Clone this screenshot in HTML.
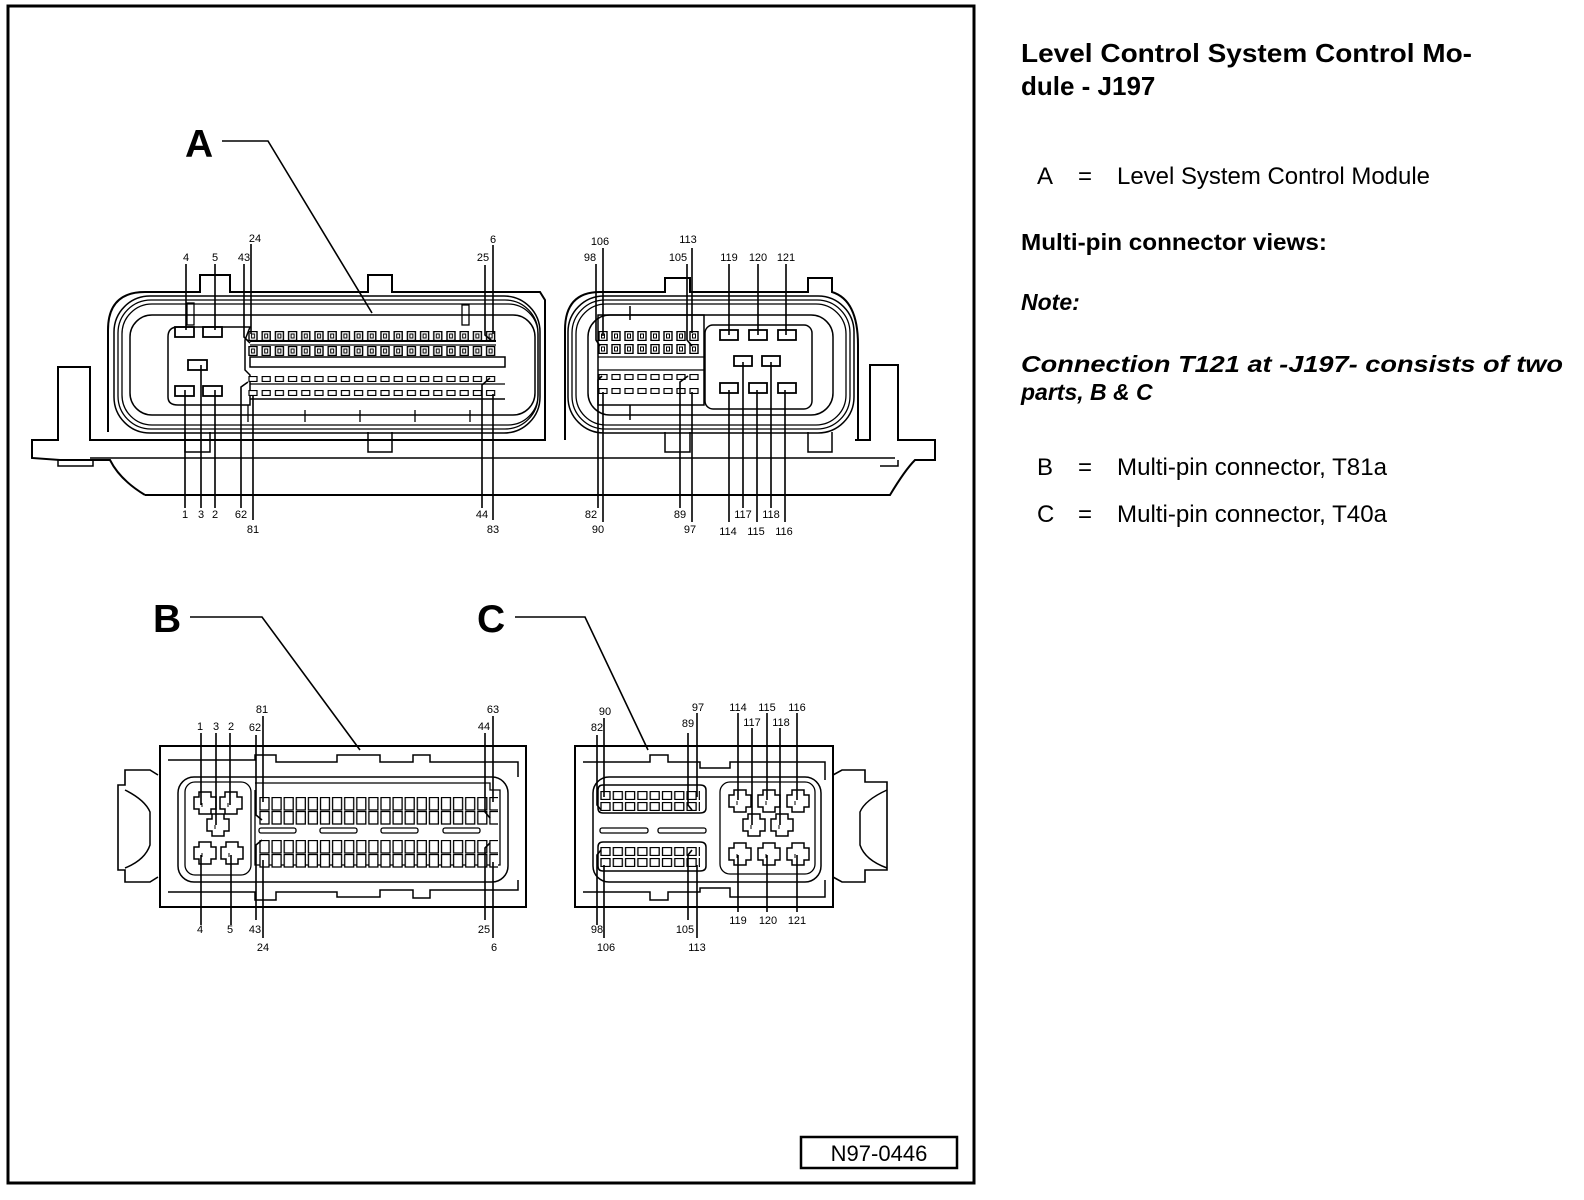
<!DOCTYPE html>
<html><head><meta charset="utf-8"><style>
html,body{margin:0;padding:0;background:#fff;}
svg{display:block;}
.t{font-family:"Liberation Sans",Arial,sans-serif;}
</style></head><body>
<svg width="1584" height="1200" viewBox="0 0 1584 1200" xmlns="http://www.w3.org/2000/svg">
<defs>
<pattern id="pA" x="248" y="0" width="13.2" height="20" patternUnits="userSpaceOnUse"><rect x="1" y="0.5" width="8" height="9" fill="#fff" stroke="#000" stroke-width="1.4"/><rect x="3.5" y="3" width="3" height="4" fill="none" stroke="#000" stroke-width="1"/></pattern>
<pattern id="pAs" x="248" y="0" width="13.2" height="20" patternUnits="userSpaceOnUse"><rect x="1" y="0.5" width="8" height="5" fill="#fff" stroke="#000" stroke-width="1.2"/></pattern>
<pattern id="pR" x="598" y="0" width="13" height="20" patternUnits="userSpaceOnUse"><rect x="1" y="0.5" width="8" height="9" fill="#fff" stroke="#000" stroke-width="1.4"/><rect x="3.5" y="3" width="3" height="4" fill="none" stroke="#000" stroke-width="1"/></pattern>
<pattern id="pRs" x="598" y="0" width="13" height="20" patternUnits="userSpaceOnUse"><rect x="1" y="0.5" width="8" height="5" fill="#fff" stroke="#000" stroke-width="1.2"/></pattern>
<pattern id="pB" x="259" y="0" width="12.1" height="30" patternUnits="userSpaceOnUse"><rect x="1" y="0.5" width="9" height="12.5" fill="#fff" stroke="#000" stroke-width="1.3"/></pattern>
<pattern id="pC" x="600" y="0" width="12.3" height="30" patternUnits="userSpaceOnUse"><rect x="1" y="0.5" width="9" height="8" fill="#fff" stroke="#000" stroke-width="1.3"/></pattern>
<g id="cross"><path d="M-6,-11 h12 v5 h5 v12 h-5 v5 h-12 v-5 h-5 v-12 h5 z" fill="#fff" stroke="#000" stroke-width="1.5"/><path d="M-3,0 v4" stroke="#000"/></g>
</defs>
<g fill="none" stroke="#000" stroke-width="2">
<rect x="8" y="6" width="966" height="1177" stroke-width="3"/>
<rect x="801" y="1137" width="156" height="31" stroke-width="2.5"/>

<path d="M145,495 H890 Q905,470 915,460 H935 V440 H898 V365 H870 V440 H855"/>
<path d="M110,440 H90 V367 H58 V440 H32 V458 L60,460 H110 Q120,480 145,495"/>
<line x1="90" y1="458" x2="895" y2="458" stroke-width="1.5"/>
<path d="M58,460 V466 H93 V460 M898,460 V466 H880" stroke-width="1.5"/>
<path d="M108,432 V330 Q108,292 145,292 H200 V275 H230 V292 H368 V275 H392 V292 H540 L545,300 V440 H108" />
<rect x="114" y="296" width="426" height="137" rx="36" stroke-width="1.5"/>
<rect x="118" y="300" width="420" height="129" rx="33" stroke-width="1.3"/>
<rect x="122" y="304" width="416" height="121" rx="30" stroke-width="1.3"/>
<rect x="130" y="315" width="405" height="100" rx="22" stroke-width="1.5"/>
<path d="M185,432 V452 H210 V432 M368,432 V452 H392 V432" stroke-width="1.5"/>
<path d="M250,327 H178 Q168,327 168,337 V397 Q168,405 178,405 H250 V375 L245,370 V340 Z" stroke-width="1.5"/>
<rect x="175" y="327" width="19" height="10" stroke-width="1.8"/>
<rect x="203" y="327" width="19" height="10" stroke-width="1.8"/>
<rect x="188" y="360" width="19" height="10" stroke-width="1.8"/>
<rect x="175" y="386" width="19" height="10" stroke-width="1.8"/>
<rect x="203" y="386" width="19" height="10" stroke-width="1.8"/>
<line x1="250" y1="341" x2="496" y2="341"/>
<line x1="250" y1="345" x2="496" y2="345" stroke-width="1.3"/>
<rect x="250" y="357" width="255" height="10" stroke-width="1.5"/>
<line x1="250" y1="384" x2="505" y2="384" stroke-width="1.3"/>
<line x1="250" y1="399" x2="505" y2="399" stroke-width="1.5"/>
<rect x="187" y="303" width="7" height="22" stroke-width="1.3"/>
<rect x="462" y="305" width="7" height="20" stroke-width="1.3"/>
<path d="M248,405 V422 M305,410 V422 M360,410 V422 M415,410 V422 M470,410 V422" stroke-width="1.3"/>
<path d="M565,440 V330 Q565,292 600,292 H665 V278 H690 V292 H808 V278 H832 V292 Q858,300 858,345 V440"/>
<rect x="568" y="296" width="286" height="137" rx="36" stroke-width="1.5"/>
<rect x="572" y="300" width="278" height="129" rx="33" stroke-width="1.3"/>
<rect x="576" y="304" width="270" height="121" rx="30" stroke-width="1.3"/>
<rect x="588" y="315" width="245" height="100" rx="22" stroke-width="1.5"/>
<rect x="598" y="315" width="106" height="90" stroke-width="1.5"/>
<rect x="705" y="325" width="107" height="84" rx="8" stroke-width="1.5"/>
<rect x="720" y="330" width="18" height="10" stroke-width="1.8"/>
<rect x="749" y="330" width="18" height="10" stroke-width="1.8"/>
<rect x="778" y="330" width="18" height="10" stroke-width="1.8"/>
<rect x="734" y="356" width="18" height="10" stroke-width="1.8"/>
<rect x="762" y="356" width="18" height="10" stroke-width="1.8"/>
<rect x="720" y="383" width="18" height="10" stroke-width="1.8"/>
<rect x="749" y="383" width="18" height="10" stroke-width="1.8"/>
<rect x="778" y="383" width="18" height="10" stroke-width="1.8"/>
<path d="M630,306 V320 M630,405 V420 M665,432 V452 H690 V432 M808,432 V452 H832 V432" stroke-width="1.5"/>
<line x1="598" y1="357" x2="704" y2="357" stroke-width="1.3"/>
<line x1="598" y1="370" x2="704" y2="370" stroke-width="1.3"/>
</g>
<g transform="translate(0,331)"><rect x="248" y="0" width="250" height="10" fill="url(#pA)"/></g>
<g transform="translate(0,346)"><rect x="248" y="0" width="250" height="10" fill="url(#pA)"/></g>
<g transform="translate(0,376)"><rect x="248" y="0" width="250" height="6" fill="url(#pAs)"/></g>
<g transform="translate(0,390)"><rect x="248" y="0" width="250" height="6" fill="url(#pAs)"/></g>
<g transform="translate(0,331)"><rect x="598" y="0" width="104" height="10" fill="url(#pR)"/></g>
<g transform="translate(0,344)"><rect x="598" y="0" width="104" height="10" fill="url(#pR)"/></g>
<g transform="translate(0,374)"><rect x="598" y="0" width="104" height="6" fill="url(#pRs)"/></g>
<g transform="translate(0,388)"><rect x="598" y="0" width="104" height="6" fill="url(#pRs)"/></g>
<g stroke="#000" stroke-width="1.6" fill="none">
<path d="M222,141 H268 L372,313"/>
<path d="M186,264 V330 M215,264 V330 M185,390 V508 M201,365 V508 M215,390 V508"/>
<path d="M251,244 V334 M244,264 V337 L250,343 M253,395 V520 M241,508 V387 L248,382"/>
<path d="M485,265 V335 L492,341 M493,245 V334 M493,394 V520 M482,508 V385 L490,378"/>
<path d="M596,264 V340 L600,346 M603,248 V336 M598,508 V380 L602,376 M603,392 V522"/>
<path d="M687,264 V340 L692,346 M692,248 V333 M680,508 V382 L688,376 M692,392 V522"/>
<path d="M729,264 V335 M758,264 V335 M786,264 V335 M729,390 V522 M757,390 V522 M785,390 V522 M743,362 V508 M771,362 V508"/>
</g>

<g fill="none" stroke="#000" stroke-width="2">
<path d="M190,617 H262 L360,750" stroke-width="1.6"/>
<rect x="160" y="746" width="366" height="161"/>
<path d="M158,775 L150,770 H125 V785 H118 V870 H125 V882 H150 L158,877" stroke-width="1.6"/>
<path d="M125,790 Q145,800 150,812 V845 Q145,860 125,868" stroke-width="1.5"/>
<path d="M168,760 H255 V755 H276 V762 H337 V755 H380 V762 H413 V755 H430 V762 H518 V777" stroke-width="1.5"/>
<path d="M168,892 H255 V900 H276 V892 H337 V897 H380 V890 H413 V898 H430 V890 H518 V880" stroke-width="1.5"/>
<rect x="178" y="777" width="330" height="105" rx="16" stroke-width="1.5"/>
<rect x="185" y="782" width="66" height="93" rx="10" stroke-width="1.3"/>
<path d="M255,790 V865 H500 V790 H490 V783 H255" stroke-width="1.3"/>
<rect x="259" y="828" width="37" height="5" rx="2" stroke-width="1.3"/>
<rect x="320" y="828" width="37" height="5" rx="2" stroke-width="1.3"/>
<rect x="381" y="828" width="37" height="5" rx="2" stroke-width="1.3"/>
<rect x="443" y="828" width="37" height="5" rx="2" stroke-width="1.3"/>
</g>
<use href="#cross" x="205" y="803"/><use href="#cross" x="231" y="803"/><use href="#cross" x="218" y="825"/>
<use href="#cross" x="205" y="853"/><use href="#cross" x="232" y="853"/>
<g transform="translate(0,797)"><rect x="258" y="0" width="240" height="14" fill="url(#pB)"/></g>
<g transform="translate(0,811)"><rect x="258" y="0" width="240" height="14" fill="url(#pB)"/></g>
<g transform="translate(0,840)"><rect x="258" y="0" width="240" height="14" fill="url(#pB)"/></g>
<g transform="translate(0,854)"><rect x="258" y="0" width="240" height="14" fill="url(#pB)"/></g>
<g stroke="#000" stroke-width="1.6" fill="none">
<path d="M201,733 V805 M216,733 V825 M230,733 V805 M201,855 V925 M231,855 V925"/>
<path d="M256,735 V815 L262,820 M263,716 V802 M256,920 V845 L262,840 M263,860 V938"/>
<path d="M485,733 V812 L490,818 M493,716 V802 M485,920 V848 L490,843 M493,862 V938"/>
</g>

<g fill="none" stroke="#000" stroke-width="2">
<path d="M515,617 H585 L648,750" stroke-width="1.6"/>
<rect x="575" y="746" width="258" height="161"/>
<path d="M833,775 L842,770 H865 V782 H887 V870 H865 V882 H842 L833,877" stroke-width="1.6"/>
<path d="M887,790 Q865,800 860,812 V845 Q865,860 887,868" stroke-width="1.5"/>
<path d="M583,762 H650 V755 H668 V762 H700 V768 H730 V762 H825 V780" stroke-width="1.5"/>
<path d="M583,892 H650 V900 H668 V892 H700 V888 H730 V897 H825 V880" stroke-width="1.5"/>
<rect x="593" y="777" width="228" height="105" rx="16" stroke-width="1.5"/>
<path d="M598,790 Q598,785 603,785 H700 Q706,785 706,790 V808 Q706,813 700,813 H603 Q598,813 598,808 Z" stroke-width="1.5"/>
<path d="M598,847 Q598,842 603,842 H700 Q706,842 706,847 V866 Q706,871 700,871 H603 Q598,871 598,866 Z" stroke-width="1.5"/>
<rect x="600" y="828" width="48" height="5" rx="2" stroke-width="1.3"/>
<rect x="658" y="828" width="48" height="5" rx="2" stroke-width="1.3"/>
<rect x="720" y="782" width="95" height="92" rx="10" stroke-width="1.3"/>
</g>
<use href="#cross" x="740" y="801"/><use href="#cross" x="769" y="801"/><use href="#cross" x="798" y="801"/>
<use href="#cross" x="754" y="825"/><use href="#cross" x="782" y="825"/>
<use href="#cross" x="740" y="854"/><use href="#cross" x="769" y="854"/><use href="#cross" x="798" y="854"/>
<g transform="translate(0,791)"><rect x="600" y="0" width="100" height="9" fill="url(#pC)"/></g>
<g transform="translate(0,802)"><rect x="600" y="0" width="100" height="9" fill="url(#pC)"/></g>
<g transform="translate(0,847)"><rect x="600" y="0" width="100" height="9" fill="url(#pC)"/></g>
<g transform="translate(0,858)"><rect x="600" y="0" width="100" height="9" fill="url(#pC)"/></g>
<g stroke="#000" stroke-width="1.6" fill="none">
<path d="M597,735 V805 L601,810 M604,718 V797 M597,925 V855 L601,850 M604,865 V938"/>
<path d="M688,733 V805 L692,810 M697,713 V797 M688,920 V855 L692,850 M697,865 V938"/>
<path d="M738,713 V800 M752,728 V825 M767,713 V800 M780,728 V825 M797,713 V800 M738,855 V912 M767,855 V912 M797,855 V912"/>
</g>

<g class="t" font-weight="bold" font-size="39" fill="#000">
<text x="185" y="157">A</text><text x="153" y="632">B</text><text x="477" y="632">C</text>
</g>
<g class="t" font-size="11" fill="#000" text-anchor="middle">
<text x="255" y="242">24</text><text x="186" y="261">4</text><text x="215" y="261">5</text><text x="244" y="261">43</text>
<text x="493" y="243">6</text><text x="483" y="261">25</text>
<text x="185" y="518">1</text><text x="201" y="518">3</text><text x="215" y="518">2</text><text x="241" y="518">62</text><text x="253" y="533">81</text>
<text x="482" y="518">44</text><text x="493" y="533">83</text>
<text x="600" y="245">106</text><text x="590" y="261">98</text><text x="688" y="243">113</text><text x="678" y="261">105</text>
<text x="729" y="261">119</text><text x="758" y="261">120</text><text x="786" y="261">121</text>
<text x="591" y="518">82</text><text x="598" y="533">90</text><text x="680" y="518">89</text><text x="690" y="533">97</text>
<text x="743" y="518">117</text><text x="771" y="518">118</text><text x="728" y="535">114</text><text x="756" y="535">115</text><text x="784" y="535">116</text>
<text x="262" y="713">81</text><text x="200" y="730">1</text><text x="216" y="730">3</text><text x="231" y="730">2</text><text x="255" y="731">62</text>
<text x="493" y="713">63</text><text x="484" y="730">44</text>
<text x="200" y="933">4</text><text x="230" y="933">5</text><text x="255" y="933">43</text><text x="263" y="951">24</text>
<text x="484" y="933">25</text><text x="494" y="951">6</text>
<text x="605" y="715">90</text><text x="597" y="731">82</text><text x="698" y="711">97</text><text x="688" y="727">89</text>
<text x="738" y="711">114</text><text x="767" y="711">115</text><text x="797" y="711">116</text><text x="752" y="726">117</text><text x="781" y="726">118</text>
<text x="738" y="924">119</text><text x="768" y="924">120</text><text x="797" y="924">121</text>
<text x="597" y="933">98</text><text x="606" y="951">106</text><text x="685" y="933">105</text><text x="697" y="951">113</text>
</g>
<text class="t" x="879" y="1161" font-size="22" text-anchor="middle" fill="#000">N97-0446</text>

<g class="t" fill="#000">
<text x="1021" y="62" font-size="26" font-weight="bold" textLength="451" lengthAdjust="spacingAndGlyphs">Level Control System Control Mo-</text>
<text x="1021" y="95" font-size="26" font-weight="bold">dule - J197</text>
<text x="1037" y="184" font-size="24">A</text><text x="1078" y="184" font-size="24">=</text>
<text x="1117" y="184" font-size="24" textLength="313" lengthAdjust="spacingAndGlyphs">Level System Control Module</text>
<text x="1021" y="250" font-size="23" font-weight="bold" textLength="306" lengthAdjust="spacingAndGlyphs">Multi-pin connector views:</text>
<text x="1021" y="310" font-size="23" font-weight="bold" font-style="italic">Note:</text>
<text x="1021" y="372" font-size="23" font-weight="bold" font-style="italic" textLength="542" lengthAdjust="spacingAndGlyphs">Connection T121 at -J197- consists of two</text>
<text x="1021" y="400" font-size="23" font-weight="bold" font-style="italic">parts, B &amp; C</text>
<text x="1037" y="475" font-size="24">B</text><text x="1078" y="475" font-size="24">=</text>
<text x="1117" y="475" font-size="24" textLength="270" lengthAdjust="spacingAndGlyphs">Multi-pin connector, T81a</text>
<text x="1037" y="522" font-size="24">C</text><text x="1078" y="522" font-size="24">=</text>
<text x="1117" y="522" font-size="24" textLength="270" lengthAdjust="spacingAndGlyphs">Multi-pin connector, T40a</text>
</g>
</svg>
</body></html>
